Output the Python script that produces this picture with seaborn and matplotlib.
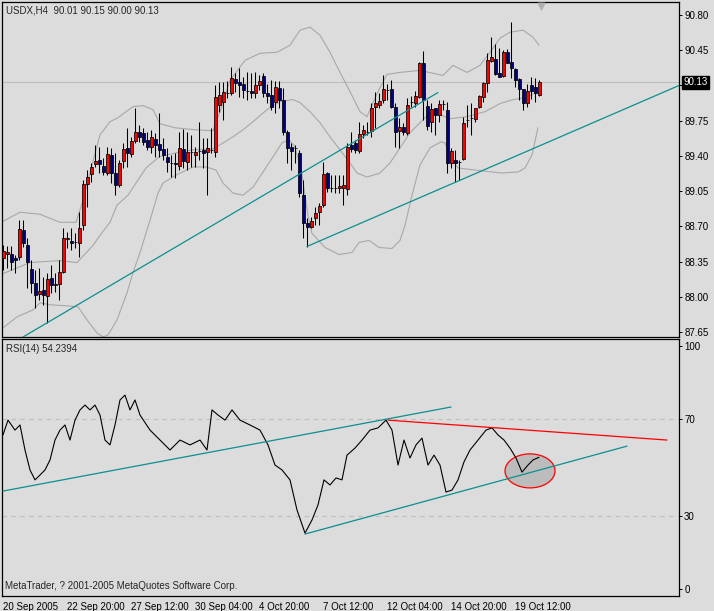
import matplotlib
matplotlib.use("Agg")
import matplotlib.pyplot as plt
import seaborn as sns
import numpy as np
import pandas as pd
from matplotlib.patches import Ellipse

# ---------------- data ----------------
opens = [88.39,88.43,88.43,88.39,88.40,88.66,88.51,88.28,88.14,88.03,88.07,88.01,88.19,88.12,88.13,88.25,88.57,88.55,88.54,88.53,
         88.71,89.12,89.22,89.32,89.36,89.30,89.23,89.41,89.23,89.11,89.35,89.48,89.42,89.55,89.64,89.63,89.56,89.49,89.57,89.52,
         89.47,89.39,89.33,89.33,89.30,89.47,89.34,89.44,89.41,89.45,89.46,89.44,89.46,89.44,89.91,89.94,90.03,90.03,90.16,90.13,
         90.11,90.05,90.05,90.03,90.10,90.19,90.03,90.01,89.94,90.08,89.96,89.64,89.49,89.48,89.43,89.01,88.73,88.69,88.78,88.84,
         88.91,89.23,89.08,89.08,89.08,89.08,89.07,89.51,89.53,89.45,89.62,89.64,89.65,89.89,89.91,89.96,90.06,90.07,89.89,89.65,
         89.69,89.63,89.94,89.93,89.99,90.32,89.90,89.74,89.88,89.81,89.92,89.86,89.33,89.36,89.34,89.37,89.76,89.78,89.77,89.89,
         89.99,90.12,90.34,90.36,90.22,90.19,90.43,90.33,90.26,90.16,90.07,89.93,90.10,90.09,90.01]
highs = [88.51,88.50,88.50,88.42,88.76,88.76,88.58,88.37,88.27,88.29,88.20,88.24,88.32,88.24,88.37,88.68,88.64,88.68,88.63,88.84,
         89.16,89.26,89.33,89.51,89.49,89.38,89.49,89.48,89.43,89.36,89.53,89.68,89.59,89.88,89.71,89.68,89.64,89.66,89.63,89.83,
         89.58,89.48,89.41,89.43,89.64,89.67,89.64,89.61,89.49,89.74,89.58,89.58,89.68,90.10,90.13,90.13,90.14,90.28,90.22,90.27,
         90.18,90.23,90.22,90.23,90.20,90.22,90.11,90.15,90.14,90.14,90.08,89.66,89.53,89.51,89.46,89.16,88.78,88.79,88.89,88.93,
         89.34,89.24,89.21,89.21,89.21,89.21,89.53,89.64,89.56,89.74,89.71,89.74,89.93,90.04,90.03,90.20,90.11,90.15,89.93,89.78,
         89.73,89.98,90.00,90.05,90.33,90.44,89.96,89.93,89.88,89.96,89.96,89.94,89.48,89.46,89.36,89.79,89.91,89.93,89.88,90.01,
         90.13,90.42,90.58,90.51,90.47,90.45,90.46,90.73,90.27,90.17,90.07,90.11,90.18,90.17,90.15]
lows = [88.27,88.29,88.27,88.24,88.37,88.49,88.09,88.04,87.89,87.97,87.92,87.74,88.04,88.05,87.97,88.24,88.48,88.46,88.48,88.40,
        88.66,88.89,89.14,89.29,89.23,89.21,89.21,89.13,89.01,89.09,89.28,89.29,89.39,89.53,89.54,89.51,89.46,89.43,89.39,89.39,
        89.36,89.24,89.19,89.18,89.26,89.28,89.26,89.29,89.29,89.36,89.28,89.01,89.43,89.39,89.84,89.76,89.98,90.01,90.04,89.99,
        89.98,89.96,89.98,89.98,90.06,89.99,89.93,89.86,89.83,89.88,89.61,89.33,89.26,89.33,88.99,88.58,88.49,88.68,88.71,88.71,
        88.89,89.04,89.04,89.03,89.03,88.91,89.01,89.44,89.43,89.43,89.58,89.61,89.59,89.68,89.88,89.93,89.96,89.88,89.49,89.48,
        89.61,89.61,89.89,89.89,89.98,89.76,89.66,89.64,89.61,89.74,89.86,89.23,89.28,89.14,89.16,89.36,89.69,89.61,89.74,89.88,
        89.94,90.04,90.33,90.20,90.18,90.18,90.32,90.17,90.09,89.96,89.86,89.89,89.97,89.94,90.00]
closes = [88.45,88.44,88.35,88.37,88.67,88.53,88.35,88.14,88.02,88.06,88.02,88.18,88.12,88.13,88.25,88.58,88.58,88.53,88.54,88.68,
          89.12,89.19,89.29,89.35,89.32,89.24,89.42,89.23,89.11,89.33,89.47,89.43,89.55,89.64,89.59,89.54,89.49,89.59,89.51,89.46,
          89.41,89.34,89.33,89.32,89.48,89.35,89.44,89.44,89.44,89.45,89.43,89.48,89.46,89.99,90.01,90.04,90.03,90.17,90.12,90.10,
          90.06,90.05,90.03,90.10,90.14,90.03,90.00,89.89,90.09,89.96,89.64,89.48,89.45,89.48,89.03,88.73,88.69,88.75,88.83,88.90,
          89.22,89.08,89.08,89.08,89.10,89.11,89.49,89.47,89.46,89.62,89.66,89.64,89.88,89.93,89.95,90.07,90.06,89.89,89.64,89.69,
          89.64,89.91,89.94,90.00,90.32,89.96,89.70,89.87,89.81,89.92,89.92,89.33,89.45,89.33,89.34,89.73,89.76,89.78,89.88,90.00,
          90.12,90.35,90.38,90.21,90.18,90.43,90.32,90.27,90.15,90.07,89.93,90.05,90.05,90.03,90.13]

# Bollinger bands (bar index, price)
bb_up_idx = [0,4.25,9.25,14.25,18.25,20,22.25,24.25,26.75,28.75,32.5,35,37.5,39.25,43,48,52.5,54.25,56.75,60.5,64.25,68.5,71.75,
             74.25,76.75,79.25,81.75,84.25,86.75,89.25,91,93.75,96,99.25,104.25,110,112.5,116,119.25,121.75,124.25,126.75,130,132.5,134]
bb_up_val = [88.75,88.84,88.82,88.74,88.74,88.96,89.31,89.61,89.74,89.78,89.89,89.90,89.86,89.72,89.68,89.66,89.65,89.84,90.15,90.35,90.42,90.43,90.50,
             90.65,90.68,90.60,90.43,90.23,90.04,89.84,89.79,90.04,90.21,90.23,90.25,90.20,90.30,90.23,90.30,90.43,90.57,90.63,90.65,90.58,90.50]
bb_mid_idx = [0,6.75,14.25,18.5,22.5,24.25,26.75,28.5,31.25,33.25,35.75,39,44.25,47.5,52.5,54.25,57.5,60,62.5,66,69.25,72.5,74.25,
              76.75,79.25,81.75,84.25,86.75,88.5,91,94.25,96.75,99.25,101.75,104.25,106.75,109.25,111.75,116,120.5,124.25,127.5,131,133.5]
bb_mid_val = [88.23,88.34,88.36,88.34,88.51,88.61,88.74,88.91,89.01,89.13,89.28,89.39,89.44,89.46,89.47,89.51,89.59,89.66,89.74,89.86,89.94,89.96,89.93,
              89.84,89.73,89.59,89.46,89.33,89.23,89.19,89.23,89.33,89.48,89.63,89.73,89.83,89.81,89.77,89.79,89.84,89.92,89.96,89.98,90.04]
bb_low_idx = [0,3.5,7.5,9.25,11.75,16,18.75,21,23.5,25,26.25,28.5,31,32.5,34.25,36.75,38.75,40,43.25,47.5,50.75,53.25,55,57.5,60,62.5,65,
              67.5,69.75,71.5,73,74.75,76.25,77.25,80.5,84,87.25,89,91.5,94,97.25,99.25,100.5,102.25,104.25,106.75,109.5,110.5,112,113.75,
              118,124.5,128.75,130.5,132.25,133.75]
bb_low_val = [87.69,87.80,87.87,87.94,87.92,87.91,87.90,87.77,87.64,87.60,87.62,87.77,88.04,88.24,88.44,88.76,89.03,89.13,89.21,89.29,89.29,89.26,
              89.13,89.03,89.01,89.09,89.24,89.39,89.53,89.56,89.49,89.21,88.81,88.63,88.49,88.42,88.44,88.54,88.56,88.49,88.48,88.56,88.71,89.01,
              89.31,89.48,89.54,89.53,89.38,89.28,89.26,89.23,89.24,89.28,89.41,89.68]

# trend lines on the price chart
tl1_idx, tl1_val = [5, 108.75], [87.60, 90.03]
tl2_idx, tl2_val = [76, 169], [88.50, 90.10]

# RSI(14)
rsi_idx = [0,1.25,3,4.25,5.5,6.75,8,9.25,10.5,11.75,13,14.25,15.5,16.75,18,19.25,20.5,21.75,23,24.25,25.5,26.75,28,29.25,30.5,31.75,33,
           34.25,36.75,39.25,41.75,44.25,46.75,49.25,51,52.25,53.75,55.5,57.25,59.25,61.75,64.25,66.25,68,69.75,71.75,73.5,75.5,77.25,
           78.75,80.25,81.75,83.25,84.75,86,88,89.75,91.75,93.75,95.75,97.25,98.75,100.25,101.75,103.25,104.75,106.25,107.75,109.25,
           110.75,112.25,113.75,115.25,116.75,118.75,120.75,122.25,123.75,125.25,126.75,128.25,129.75,131.25,132.5,134]
rsi_val = [63.4,69.5,65.4,67.5,57.2,49.0,44.9,46.9,49.0,53.1,61.3,65.4,67.5,61.3,69.5,73.7,75.7,73.7,75.7,71.6,61.3,59.3,67.5,77.8,79.8,73.7,77.8,
           71.6,65.4,61.3,57.2,61.3,59.3,61.3,57.2,73.7,71.6,69.5,73.7,69.5,67.5,65.4,59.3,51.0,49.0,44.9,32.5,23.0,28.4,
           34.6,44.9,42.8,45.7,44.9,55.1,58.0,61.3,65.4,66.3,69.5,65.4,51.0,61.3,53.9,59.3,62.1,51.0,55.1,51.0,
           39.9,40.7,44.9,52.3,57.2,61.3,65.4,66.3,63.4,61.3,58.0,53.9,48.1,51.0,53.1,54.2]

# RSI trend lines and highlight
rsi_tl1_idx, rsi_tl1_val = [0, 112], [40.3, 74.9]
rsi_tl2_idx, rsi_tl2_val = [75.5, 156], [22.6, 58.8]
rsi_red_idx, rsi_red_val = [96.25, 166], [69.5, 61.3]
ellipse_center = (131.75, 48.6)
ellipse_size = (12.5, 14.0)

price_ticks = [87.65, 88.00, 88.35, 88.70, 89.05, 89.40, 89.75, 90.10, 90.45, 90.80]
rsi_ticks = [0, 30, 70, 100]
date_pos = [0, 16, 32, 48, 64, 80, 96, 112, 128]
date_labels = ["20 Sep 2005", "22 Sep 20:00", "27 Sep 12:00", "30 Sep 04:00", "4 Oct 20:00",
               "7 Oct 12:00", "12 Oct 04:00", "14 Oct 20:00", "19 Oct 12:00"]
title_top = "USDX,H4  90.01 90.15 90.00 90.13"
title_rsi = "RSI(14) 54.2394"
copyright_txt = "MetaTrader, ? 2001-2005 MetaQuotes Software Corp."

# ---------------- style ----------------
BG = "#dcdcdc"
TEAL = "#0b8f8f"
sns.set_style("white")
plt.rcParams["font.family"] = ["Liberation Sans", "DejaVu Sans"]
plt.rcParams["font.size"] = 7

W, H = 714, 611
fig = plt.figure(figsize=(W / 100, H / 100), dpi=100, facecolor=BG)
ax1 = fig.add_axes([2 / W, 1 - 337 / H, 677 / W, 335 / H], facecolor=BG)
ax2 = fig.add_axes([2 / W, 1 - 596 / H, 677 / W, 257 / H], facecolor=BG)

df = pd.DataFrame({"o": opens, "h": highs, "l": lows, "c": closes})
df["i"] = np.arange(len(df))
up = df.c > df.o
down = df.c < df.o
colors = np.where(up, "#ff0000", np.where(down, "#000080", "black"))

# Bollinger bands
band_kw = dict(color="#a8a8a8", linewidth=0.8, ax=ax1, legend=False)
sns.lineplot(x=bb_up_idx, y=bb_up_val, **band_kw)
sns.lineplot(x=bb_mid_idx, y=bb_mid_val, **band_kw)
sns.lineplot(x=bb_low_idx, y=bb_low_val, **band_kw)

# current price line
ax1.axhline(closes[-1], color="#bdbdbd", linewidth=0.8, zorder=1)

# candles
ax1.vlines(df.i, df.l, df.h, color="black", linewidth=0.75, zorder=3)
ax1.bar(df.i, (df.c - df.o).abs(), bottom=np.minimum(df.o, df.c), width=0.75,
        color=colors, edgecolor="black", linewidth=0.55, zorder=4)

# trend lines
ax1.plot(tl1_idx, tl1_val, color=TEAL, linewidth=0.9, zorder=5)
ax1.plot(tl2_idx, tl2_val, color=TEAL, linewidth=0.9, zorder=5)

ax1.set_xlim(-0.25, 169)
ax1.set_ylim(87.60, 90.93)
ax1.set_xticks([])
ax1.yaxis.tick_right()
ax1.set_yticks(price_ticks)
ax1.set_yticklabels([f"{t:.2f}" for t in price_ticks])
ax1.tick_params(axis="y", direction="out", length=2.2, width=0.7, pad=1.5, labelsize=7, colors="black")
ax1.annotate(f"{closes[-1]:.2f}", xy=(1.0, closes[-1]), xycoords=("axes fraction", "data"),
             xytext=(3.2, 0), textcoords="offset points", ha="left", va="center", color="white", fontsize=7,
             bbox=dict(boxstyle="square,pad=0.12", fc="black", ec="black"), zorder=10, annotation_clip=False)
ax1.scatter([0.796], [0.988], marker="v", s=22, color="#b0b0b0", transform=ax1.transAxes, zorder=6, clip_on=False)

# RSI panel
sns.lineplot(x=rsi_idx, y=rsi_val, ax=ax2, color="black", linewidth=0.8, legend=False, zorder=4)
for lv in (30, 70):
    ax2.axhline(lv, color="#bdbdbd", linewidth=0.8, linestyle=(0, (4, 4)), zorder=1)
ax2.plot(rsi_tl1_idx, rsi_tl1_val, color=TEAL, linewidth=0.9, zorder=5)
ax2.plot(rsi_tl2_idx, rsi_tl2_val, color=TEAL, linewidth=0.9, zorder=5)
ax2.plot(rsi_red_idx, rsi_red_val, color="#ff0000", linewidth=0.9, zorder=5)
ax2.add_patch(Ellipse(ellipse_center, ellipse_size[0], ellipse_size[1], facecolor="#bcbcbc",
                      edgecolor="#ff0000", linewidth=0.9, zorder=3))
ax2.set_xlim(-0.25, 169)
ax2.set_ylim(-2.9, 102.9)
ax2.yaxis.tick_right()
ax2.set_yticks(rsi_ticks)
ax2.set_yticklabels([str(t) for t in rsi_ticks])
ax2.tick_params(axis="y", direction="out", length=2.2, width=0.7, pad=1.5, labelsize=7, colors="black")
ax2.set_xticks(date_pos)
ax2.set_xticklabels(date_labels)
ax2.tick_params(axis="x", direction="out", length=3, width=0.7, pad=1.5, labelsize=7, colors="black")
for lab in ax2.get_xticklabels():
    lab.set_ha("left")

for ax in (ax1, ax2):
    for s in ax.spines.values():
        s.set_color("black")
        s.set_linewidth(0.9)
    ax.grid(False)

fig.text(6 / W, 1 - 10.5 / H, title_top, ha="left", va="center", fontsize=7)
fig.text(6 / W, 1 - 348.5 / H, title_rsi, ha="left", va="center", fontsize=7)
fig.text(5 / W, 1 - 586 / H, copyright_txt, ha="left", va="center", fontsize=7)

fig.savefig("out.png", dpi=100, facecolor=BG)
